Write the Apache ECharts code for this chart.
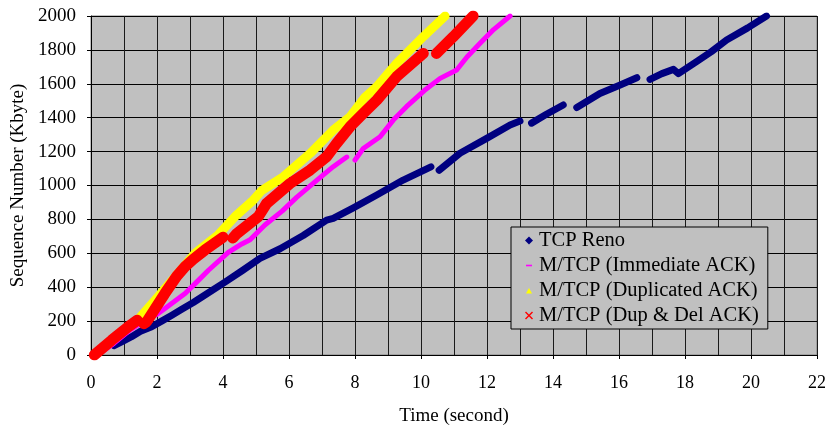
<!DOCTYPE html>
<html>
<head>
<meta charset="utf-8">
<script src="https://cdn.jsdelivr.net/npm/echarts@6/dist/echarts.min.js"></script>
<style>
  html, body { margin: 0; padding: 0; background: #fff; }
  #chart { width: 830px; height: 434px; }
</style>
</head>
<body>
<div id="chart"></div>
<script>
// Sequence number (Kbyte) against time (s); null marks a break in the trace.
const seriesNames = [
  'TCP Reno',
  'M/TCP (Immediate ACK)',
  'M/TCP (Duplicated ACK)',
  'M/TCP (Dup & Del ACK)'
];

const tcpReno = [
  [0.7, 55], [1.0, 85], [1.23, 108], [1.5, 140], [1.84, 167], [2.14, 200],
  [2.45, 235], [2.75, 270], [3.1, 310], [3.5, 360], [4.06, 430], [4.6, 500],
  [5.12, 570], [5.73, 627], [6.43, 705], [7.14, 796], [7.34, 806], [7.95, 868],
  [8.66, 944], [9.46, 1032], [10.3, 1110], null,
  [10.55, 1090], [11.18, 1190], [11.99, 1278], [12.7, 1357], [13.0, 1380], null,
  [13.35, 1368], [13.8, 1420], [14.31, 1475], null,
  [14.72, 1460], [15.42, 1543], [16.0, 1590], [16.54, 1636], null,
  [16.94, 1626], [17.3, 1660], [17.65, 1685], [17.8, 1660], [18.35, 1731],
  [18.8, 1790], [19.26, 1858], [19.9, 1930], [20.47, 2000]
];

const immediateAck = [
  [0.2, 0], [0.7, 70], [1.2, 150], [1.6, 200], [2.0, 240], [2.24, 275],
  [2.85, 363], [3.2, 430], [3.56, 500], [4.16, 605], [4.57, 655], [4.82, 680],
  [5.27, 767], [5.8, 850], [6.23, 930], [6.84, 1030], [7.34, 1111], [7.75, 1168], null,
  [8.0, 1150], [8.25, 1218], [8.76, 1288], [9.16, 1386], [9.56, 1465],
  [10.1, 1560], [10.58, 1632], [11.08, 1681], [11.4, 1760], [11.79, 1839],
  [12.2, 1920], [12.7, 2000]
];

const duplicatedAck = [
  [0.1, 0], [0.6, 80], [1.1, 160], [1.43, 210], [1.94, 324], [2.55, 462],
  [3.15, 600], [3.86, 710], [4.36, 816], [4.92, 914], [5.17, 970], [5.83, 1052],
  [6.64, 1189], [7.34, 1327], [7.85, 1406], [8.3, 1520], [8.66, 1583],
  [9.26, 1720], [10.07, 1878], [10.73, 2000]
];

const dupDelAck = [
  [0.1, 0], [0.63, 88], [1.13, 167], [1.4, 205], null,
  [1.6, 185], [1.69, 197], [2.24, 363], [2.6, 465], [2.85, 521], [3.1, 565],
  [3.45, 619], [4.0, 695], null,
  [4.3, 690], [4.41, 715], [5.07, 816], [5.32, 894], [6.03, 1012], [6.64, 1091],
  [7.14, 1170], [7.44, 1248], [7.85, 1347], [8.25, 1425], [8.66, 1504],
  [9.26, 1642], [10.07, 1779], null,
  [10.47, 1779], [10.98, 1878], [11.58, 2000]
];

const xTicks = { min: 0, max: 22, step: 2 };
const yTicks = { min: 0, max: 2000, step: 200 };

const colors = ['#000080', '#FF00FF', '#FFFF00', '#FF0000'];
const widths = [7, 5, 9, 11];
const seriesData = [tcpReno, immediateAck, duplicatedAck, dupDelAck];

// Legend glyphs; the leading moves pin every icon to the same 10x10 box.
const icons = [
  'path://M0,0M10,10M5,1L9,5L5,9L1,5Z',
  'path://M0,0M10,10M2,4.2h6v1.6h-6Z',
  'path://M0,0M10,10M5,2.5L8,8L2,8Z',
  'path://M0,0M10,10M1,2L2,1L5,4L8,1L9,2L6,5L9,8L8,9L5,6L2,9L1,8L4,5Z'
];

const serif = 'Liberation Serif, Times New Roman, serif';

const chart = echarts.init(document.getElementById('chart'), null, { renderer: 'canvas' });

chart.setOption({
  animation: false,
  backgroundColor: '#ffffff',
  grid: {
    left: 91, right: 13, top: 16, bottom: 79,
    containLabel: false,
    outerBoundsMode: 'none',
    show: true,
    backgroundColor: '#C0C0C0',
    borderColor: '#808080',
    borderWidth: 1
  },
  legend: {
    orient: 'vertical',
    left: 511,
    top: 227,
    padding: [1, 9, 1, 13],
    itemWidth: 10,
    itemHeight: 10,
    itemGap: 0,
    backgroundColor: '#C0C0C0',
    borderColor: '#000000',
    borderWidth: 1,
    borderRadius: 0,
    textStyle: { fontFamily: serif, fontSize: 20.5, color: '#000', lineHeight: 25 },
    data: seriesNames.map((n, i) => ({
      name: n,
      icon: icons[i],
      itemStyle: { color: colors[i], borderWidth: 0 }
    }))
  },
  xAxis: {
    type: 'value',
    min: xTicks.min,
    max: xTicks.max,
    interval: xTicks.step,
    name: 'Time (second)',
    nameLocation: 'middle',
    nameGap: 52,
    nameTextStyle: { fontFamily: serif, fontSize: 19, color: '#000' },
    axisLine: { show: true, onZero: false, lineStyle: { color: '#000', width: 1 } },
    axisTick: { show: true, length: 4, lineStyle: { color: '#000' } },
    axisLabel: { fontFamily: serif, fontSize: 18, color: '#000', margin: 19,
                 formatter: v => String(v) },
    splitLine: { show: true, lineStyle: { color: '#1a1a1a', width: 1 } },
    minorTick: { show: false, splitNumber: 2 },
    minorSplitLine: { show: true, lineStyle: { color: '#1a1a1a', width: 1 } }
  },
  yAxis: {
    type: 'value',
    min: yTicks.min,
    max: yTicks.max,
    interval: yTicks.step,
    name: 'Sequence Number (Kbyte)',
    nameLocation: 'middle',
    nameGap: 62,
    nameTextStyle: { fontFamily: serif, fontSize: 19, color: '#000' },
    axisLine: { show: true, onZero: false, lineStyle: { color: '#000', width: 1 } },
    axisTick: { show: true, length: 4, lineStyle: { color: '#000' } },
    axisLabel: { fontFamily: serif, fontSize: 19, color: '#000', margin: 15,
                 formatter: v => String(v) },
    splitLine: { show: true, lineStyle: { color: '#000', width: 1 } }
  },
  series: seriesData.map((d, i) => ({
    name: seriesNames[i],
    type: 'line',
    data: d,
    connectNulls: false,
    showSymbol: false,
    symbol: 'none',
    clip: true,
    color: colors[i],
    lineStyle: { color: colors[i], width: widths[i], cap: 'round', join: 'round' },
    z: 2 + i
  }))
});
</script>
</body>
</html>
